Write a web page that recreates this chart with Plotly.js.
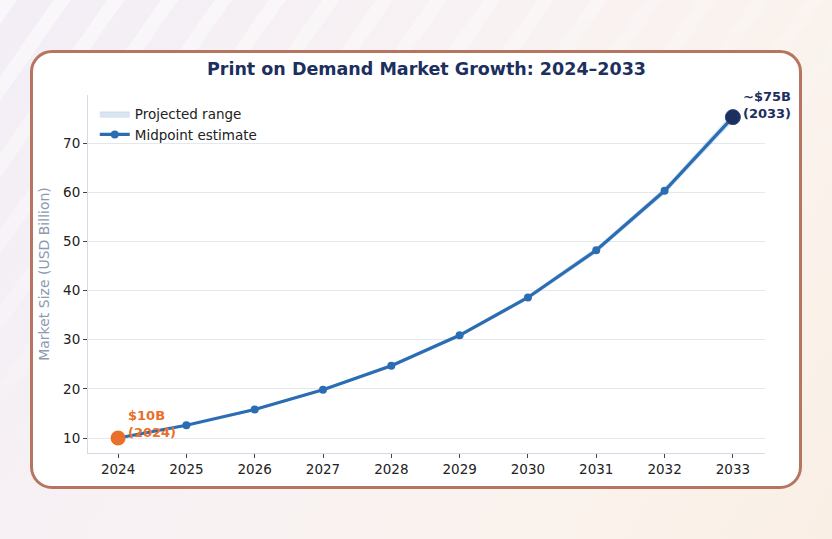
<!DOCTYPE html>
<html>
<head>
<meta charset="utf-8">
<script src="https://cdn.plot.ly/plotly-3.0.1.min.js"></script>
<style>
  html, body { margin:0; padding:0; width:832px; height:539px; overflow:hidden; }
  body {
    position: relative;
    background: linear-gradient(120deg, #f3eef6 0%, #f8f2f3 45%, #faf2ec 75%, #f9efe5 100%);
    font-family: "DejaVu Sans", sans-serif;
  }
  #stripes {
    position:absolute; left:0; top:0; width:832px; height:539px;
    background: repeating-linear-gradient(125deg, rgba(255,255,255,0.55) 0px, rgba(255,255,255,0.55) 14px, rgba(255,255,255,0) 14px, rgba(255,255,255,0) 44px);
    -webkit-mask-image: linear-gradient(160deg, rgba(0,0,0,1) 0%, rgba(0,0,0,0.4) 35%, rgba(0,0,0,0) 60%);
    mask-image: linear-gradient(160deg, rgba(0,0,0,1) 0%, rgba(0,0,0,0.4) 35%, rgba(0,0,0,0) 60%);
  }
  #card {
    position:absolute; left:30px; top:50px; width:766px; height:433px;
    background:#ffffff; border:3px solid #b67561; border-radius:22px;
  }
  #chart { position:absolute; left:0; top:0; width:832px; height:539px; }
</style>
</head>
<body>
<div id="stripes"></div>
<div id="card"></div>
<div id="chart"></div>
<script>
const years = [2024, 2025, 2026, 2027, 2028, 2029, 2030, 2031, 2032, 2033];
const midpoint = [10.0, 12.6, 15.8, 19.8, 24.7, 30.9, 38.6, 48.2, 60.3, 75.3];
const rangeLow = [9.9, 12.5, 15.6, 19.6, 24.4, 30.6, 38.2, 47.7, 59.7, 74.5];
const rangeHigh = [10.1, 12.7, 16.0, 20.0, 25.0, 31.2, 39.0, 48.7, 60.9, 76.1];
const yTicks = [10, 20, 30, 40, 50, 60, 70];
const startLabel = "$10B<br>(2024)";
const endLabel = "~$75B<br>(2033)";

const FONT = "DejaVu Sans, sans-serif";
const lineColor = "#2b6db3";
const orange = "#e8702a";
const navy = "#1c2f5e";

const traces = [
  { x: years, y: rangeLow, type: "scatter", mode: "lines",
    line: { color: "rgba(43,109,179,0.2)", width: 0.6 }, showlegend: false, hoverinfo: "skip" },
  { x: years, y: rangeHigh, type: "scatter", mode: "lines", fill: "tonexty",
    fillcolor: "rgba(43,109,179,0.18)", line: { color: "rgba(43,109,179,0.2)", width: 0.6 },
    name: "Projected range" },
  { x: years, y: midpoint, type: "scatter", mode: "lines+markers",
    line: { color: lineColor, width: 3.2 }, marker: { color: lineColor, size: 8 },
    name: "Midpoint estimate" },
  { x: [years[0]], y: [midpoint[0]], type: "scatter", mode: "markers",
    marker: { color: orange, size: 15 }, showlegend: false },
  { x: [years[years.length-1]], y: [midpoint[midpoint.length-1]], type: "scatter", mode: "markers",
    marker: { color: navy, size: 15, line: { color: "#2a4478", width: 1 } }, showlegend: false }
];

const layout = {
  width: 832, height: 539,
  paper_bgcolor: "rgba(0,0,0,0)", plot_bgcolor: "rgba(0,0,0,0)",
  margin: { l: 88, r: 67, t: 95, b: 86 },
  font: { family: FONT, color: "#222222", size: 13.5 },
  title: { text: "<b>Print on Demand Market Growth: 2024–2033</b>",
    font: { family: FONT, size: 17.5, color: "#1c2f5e" },
    xref: "paper", x: 0.5, xanchor: "center", yref: "container", y: 1 - 69/539, yanchor: "middle" },
  xaxis: {
    range: [2023.56, 2033.47], tickmode: "array", tickvals: years, ticktext: years.map(String),
    showgrid: false, zeroline: false, showline: true, linecolor: "#d3dbe8", linewidth: 1,
    ticks: "outside", ticklen: 4, tickcolor: "#444", tickwidth: 1,
    tickfont: { family: FONT, size: 13.5, color: "#222" }
  },
  yaxis: {
    range: [6.95, 79.8], tickmode: "array", tickvals: yTicks,
    showgrid: true, gridcolor: "#e2e7f0", gridwidth: 1, zeroline: false,
    showline: true, linecolor: "#d3dbe8", linewidth: 1,
    ticks: "outside", ticklen: 4, tickcolor: "#444", tickwidth: 1,
    tickfont: { family: FONT, size: 13.5, color: "#222" },
    title: { text: "Market Size (USD Billion)", font: { family: FONT, size: 14, color: "#8a9ab0" }, standoff: 10 }
  },
  legend: {
    x: 0.01, y: 0.99, xanchor: "left", yanchor: "top", bgcolor: "rgba(0,0,0,0)",
    traceorder: "normal",
    font: { family: FONT, size: 13.5, color: "#222" }, tracegroupgap: 0, itemwidth: 30
  },
  annotations: [
    { x: years[0], y: midpoint[0], xref: "x", yref: "y", text: "<b>" + startLabel + "</b>",
      showarrow: false, xanchor: "left", yanchor: "middle", align: "left", xshift: 8, yshift: 14,
      font: { family: FONT, size: 13, color: orange } },
    { x: years[years.length-1], y: midpoint[midpoint.length-1], xref: "x", yref: "y", text: "<b>" + endLabel + "</b>",
      showarrow: false, xanchor: "left", yanchor: "middle", align: "left", xshift: 8, yshift: 12,
      font: { family: FONT, size: 13, color: navy } }
  ]
};

Plotly.newPlot("chart", traces, layout, { displayModeBar: false, staticPlot: true });
</script>
</body>
</html>
